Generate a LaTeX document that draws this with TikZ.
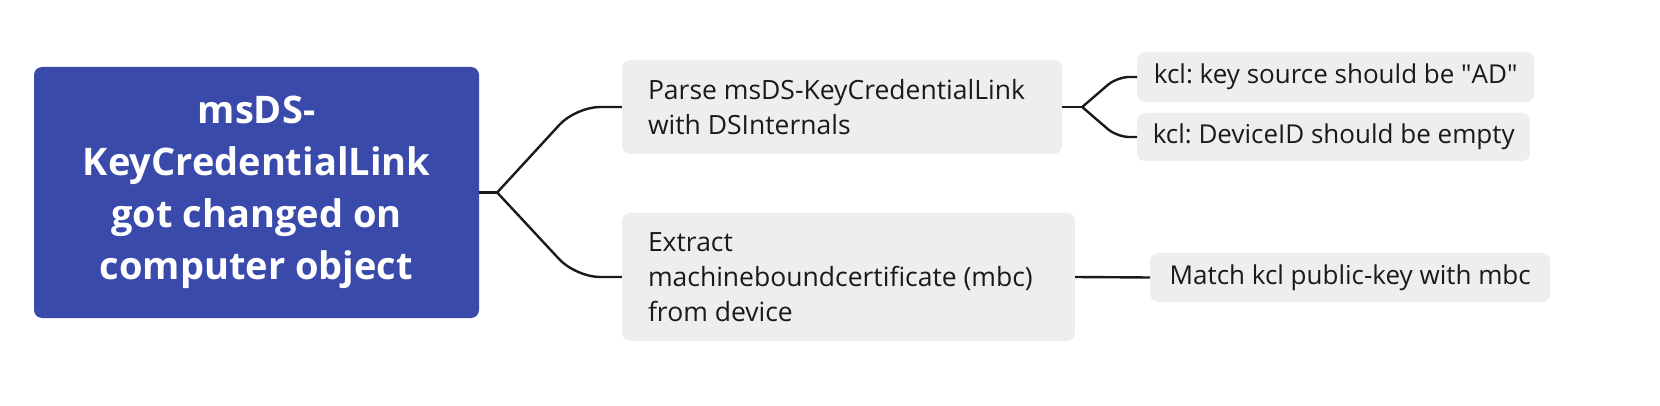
\documentclass[tikz,border=0pt]{standalone}
\usepackage{fontspec}
\setmainfont{Open Sans}
\usetikzlibrary{positioning}
\definecolor{rootblue}{HTML}{3A4AAA}
\definecolor{leafgray}{HTML}{EEEEEE}
\definecolor{inkline}{HTML}{1A1A1A}

\begin{document}
\frenchspacing
\begin{tikzpicture}
[x=1pt,y=-1pt,
rootbox/.style={fill=rootblue,rounded corners=8pt,text=white,align=center,inner sep=0pt,
  minimum width=445pt,minimum height=251pt,font=\fontsize{38}{52}\selectfont\bfseries},
leafbox/.style={fill=leafgray,rounded corners=8pt,text=inkline,align=flush left,inner ysep=0pt,
  font=\fontsize{26.5}{35}\selectfont},
tipbox/.style={leafbox,anchor=west,inner xsep=10pt,font=\fontsize{26}{30}\selectfont},
link/.style={draw=inkline,line width=2.4pt}]
\useasboundingbox (0,0) rectangle (1660,406);
% main topic
\node[rootbox] (root) at (256.5,192.5) {msDS-\\KeyCredentialLink\\got changed on\\computer object};
% second level
\node[leafbox,inner xsep=26pt,text width=388pt,minimum height=94pt] (parse) at (842,107) {Parse msDS-KeyCredentialLink\\with DSInternals};
\node[leafbox,inner xsep=26pt,text width=401pt,minimum height=128pt] (extract) at (848.5,277) {Extract\\machineboundcertificate (mbc)\\from device};
% third level
\node[tipbox,minimum height=50pt,minimum width=397pt] (source) at (1137,77) {kcl: key source should be \textquotedbl AD\textquotedbl};
\node[tipbox,minimum height=48pt,minimum width=393pt] (device) at (1137,137) {kcl: DeviceID should be empty};
\node[tipbox,minimum height=49pt,minimum width=400pt] (match) at (1150,277.5) {Match kcl public-key with mbc};
% connectors
\coordinate (rootfork) at ([xshift=18pt]root.east);
\coordinate (parsefork) at ([xshift=20pt]parse.east);
\draw[link] (root.east) -- (rootfork);
\draw[link,rounded corners=24pt] (rootfork) -- ([xshift=-46pt]parse.west) -- (parse.west);
\draw[link,rounded corners=24pt] (rootfork) -- ([xshift=-46pt]extract.west) -- (extract.west);
\draw[link] (parse.east) -- (parsefork);
\draw[link,rounded corners=12pt] (parsefork) -- ([xshift=-20pt]source.west) -- (source.west);
\draw[link,rounded corners=12pt] (parsefork) -- ([xshift=-20pt]device.west) -- (device.west);
\draw[link] (extract.east) -- (match.west);
\end{tikzpicture}
\end{document}
